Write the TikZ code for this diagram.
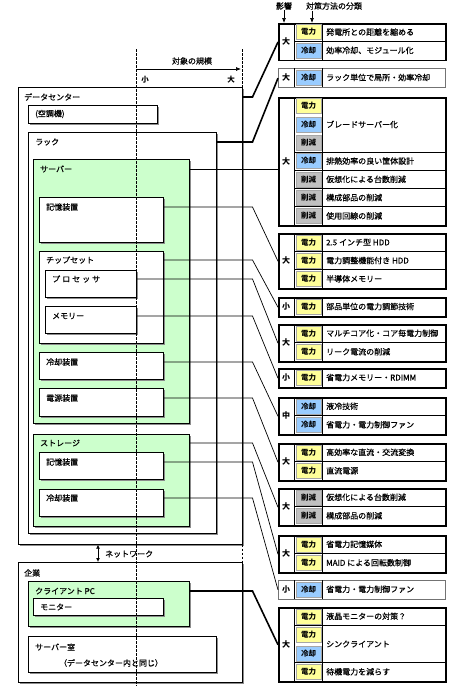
\documentclass[tikz,border=0pt]{standalone}
\usepackage{fontspec}
\setmainfont{Noto Sans CJK JP}
\usetikzlibrary{arrows.meta,shadows,calc}
\definecolor{cpow}{HTML}{FFFF99}
\definecolor{ccool}{HTML}{99CCFF}
\definecolor{ccut}{HTML}{C0C0C0}
\definecolor{cgrn}{HTML}{CCFFCC}
\newcommand{\mytxtfont}{\fontsize{8}{9}\selectfont\addfontfeature{FakeBold=0.6}}
\tikzset{
  lbox/.style={draw=black, line width=0.7pt, fill=white, anchor=north west, inner sep=0pt,
    drop shadow={shadow xshift=2pt, shadow yshift=-2pt, fill=black!45, opacity=1}},
  gbox/.style={lbox, fill=cgrn},
  lbl/.style={anchor=west, inner sep=0pt, font=\mytxtfont},
  pnl/.style={draw=black, line width=1.5pt, fill=white, anchor=north west, minimum width=167pt, inner sep=0pt},
  graypnl/.style={draw=black!55, line width=1.2pt},
  innerln/.style={line width=0.7pt},
  implbl/.style={inner sep=0pt, font=\fontsize{8}{9}\selectfont\bfseries},
  tagcell/.style={minimum width=25pt, minimum height=15pt, inner sep=0pt, draw=black!35, line width=0.4pt,
    font=\fontsize{7.5}{8}\selectfont\bfseries},
  tagpow/.style={fill=cpow},
  tagcool/.style={fill=ccool},
  tagcut/.style={fill=ccut},
  ptext/.style={anchor=west, inner sep=0pt, font=\mytxtfont},
  thickc/.style={line width=1.6pt},
  thinc/.style={line width=0.7pt},
  dashln/.style={line width=0.8pt, dash pattern=on 2.5pt off 1.5pt},
  arr/.style={line width=0.7pt, -{Latex[length=5pt,width=4pt]}},
  dblarr/.style={line width=0.8pt, {Latex[length=4pt,width=4pt]}-{Latex[length=4pt,width=4pt]}}
}
\newcommand{\mypanel}[5]{%
  \node[pnl,#5,minimum height=#3pt] (#1) at (278,#2) {};
  \draw[innerln] (294,#2) -- ++(0,#3);
  \draw[innerln] (322,#2) -- ++(0,#3);
  \node[implbl] (#1-i) at ($(286,#2)+(0,#3/2)$) {#4};
}
\newcommand{\mytag}[4]{\node[tagcell,#3] (#1) at (308.5,#2) {#4};}
\newcommand{\mytxt}[3]{\node[ptext] (#1) at (326,#2) {#3};}
\newcommand{\mysep}[1]{\draw[innerln] (294,#1) -- (445,#1);}
\begin{document}
\begin{tikzpicture}[x=1pt,y=-1pt]
\useasboundingbox[fill=white] (0,0) rectangle (455,691);

% ---------- left side boxes ----------
\node[lbox,minimum width=224pt,minimum height=457pt] (dc) at (18,87) {};
\node[lbl] (dclbl) at (24,97) {データセンター};
\node[lbox,minimum width=129pt,minimum height=18pt] (ac) at (28,105) {};
\node[lbl] (aclbl) at (35,114) {(空調機)};
\node[lbox,minimum width=188pt,minimum height=401pt] (rack) at (28,132) {};
\node[lbl] (racklbl) at (35,142) {ラック};
\node[gbox,minimum width=156pt,minimum height=264pt] (srv) at (33,159) {};
\node[lbl] (srvlbl) at (40,169) {サーバー};
\node[lbox,minimum width=124pt,minimum height=45pt] (hdd) at (39,197) {};
\node[lbl] (hddlbl) at (46,207) {記憶装置};
\node[lbox,minimum width=124pt,minimum height=92pt] (chip) at (39,251) {};
\node[lbl] (chiplbl) at (46,260) {チップセット};
\node[lbox,minimum width=91pt,minimum height=27pt] (cpu) at (45,270) {};
\node[lbl,font=\mytxtfont\addfontfeature{LetterSpace=25}] (cpulbl) at (52,279) {プロセッサ};
\node[lbox,minimum width=91pt,minimum height=27pt] (mem) at (45,306) {};
\node[lbl] (memlbl) at (52,316) {メモリー};
\node[lbox,minimum width=124pt,minimum height=27pt] (cool) at (39,352) {};
\node[lbl] (coollbl) at (46,362) {冷却装置};
\node[lbox,minimum width=124pt,minimum height=28pt] (psu) at (39,388) {};
\node[lbl] (psulbl) at (46,398) {電源装置};
\node[gbox,minimum width=156pt,minimum height=92pt] (stg) at (33,434) {};
\node[lbl] (stglbl) at (40,443) {ストレージ};
\node[lbox,minimum width=124pt,minimum height=27pt] (shdd) at (39,452) {};
\node[lbl] (shddlbl) at (46,462) {記憶装置};
\node[lbox,minimum width=124pt,minimum height=27pt] (scool) at (39,489) {};
\node[lbl] (scoollbl) at (46,498) {冷却装置};

\node[lbox,minimum width=224pt,minimum height=120pt] (ent) at (18,562) {};
\node[lbl] (entlbl) at (24,573) {企業};
\node[gbox,minimum width=161pt,minimum height=45pt] (pc) at (28,581) {};
\node[lbl] (pclbl) at (35,591) {クライアント PC};
\node[lbox,minimum width=130pt,minimum height=17pt] (mon) at (33,598) {};
\node[lbl] (monlbl) at (40,607) {モニター};
\node[lbox,minimum width=188pt,minimum height=36pt] (room) at (28,636) {};
\node[lbl] (roomlbl) at (35,647) {サーバー室};
\node[lbl,anchor=center] (roomnote) at (111,663) {（データセンター内と同じ）};

% ---------- header ----------
\node[lbl,anchor=center] (scalelbl) at (192,61) {対象の規模};
\coordinate (s1) at (136,69);
\coordinate (s2) at (241,69);
\draw[arr] (s1) -- (s2);
\node[lbl,anchor=center,font=\fontsize{7.5}{8}\selectfont\bfseries] (small) at (145,80) {小};
\node[lbl,anchor=center,font=\fontsize{7.5}{8}\selectfont\bfseries] (large) at (231,80) {大};
\node[lbl,anchor=center] (hdimp) at (284,6) {影響};
\node[lbl,anchor=center] (hdcls) at (334,6) {対策方法の分類};

% ---------- panels ----------
\mypanel{p1}{23}{36.5}{大}{}
\mytag{t1a}{32.1}{tagpow}{電力} \mytxt{x1a}{32.1}{発電所との距離を縮める}
\mysep{41.25}
\mytag{t1b}{50.4}{tagcool}{冷却} \mytxt{x1b}{50.4}{効率冷却、モジュール化}

\mypanel{p2}{68}{19}{大}{graypnl}
\mytag{t2a}{77.5}{tagcool}{冷却} \mytxt{x2a}{77.5}{ラック単位で局所・効率冷却}

\mypanel{p3}{97}{128}{大}{}
\mytag{t3a}{106.1}{tagpow}{電力}
\mytag{t3b}{124.4}{tagcool}{冷却}
\mytag{t3c}{142.7}{tagcut}{削減}
\mytxt{x3a}{124.4}{ブレードサーバー化}
\mysep{151.9}
\mytag{t3d}{161}{tagcool}{冷却} \mytxt{x3d}{161}{排熱効率の良い筐体設計}
\mysep{170.1}
\mytag{t3e}{179.3}{tagcut}{削減} \mytxt{x3e}{179.3}{仮想化による台数削減}
\mysep{188.4}
\mytag{t3f}{197.6}{tagcut}{削減} \mytxt{x3f}{197.6}{構成部品の削減}
\mysep{206.7}
\mytag{t3g}{215.9}{tagcut}{削減} \mytxt{x3g}{215.9}{使用回線の削減}

\mypanel{p4}{233}{55}{大}{}
\mytag{t4a}{242.2}{tagpow}{電力} \mytxt{x4a}{242.2}{2.5 インチ型 HDD}
\mysep{251.3}
\mytag{t4b}{260.5}{tagpow}{電力} \mytxt{x4b}{260.5}{電力調整機能付き HDD}
\mysep{269.7}
\mytag{t4c}{278.8}{tagpow}{電力} \mytxt{x4c}{278.8}{半導体メモリー}

\mypanel{p5}{297}{19}{小}{}
\mytag{t5a}{306.5}{tagpow}{電力} \mytxt{x5a}{306.5}{部品単位の電力調節技術}

\mypanel{p6}{324}{37}{大}{}
\mytag{t6a}{333.25}{tagpow}{電力} \mytxt{x6a}{333.25}{マルチコア化・コア毎電力制御}
\mysep{342.5}
\mytag{t6b}{351.75}{tagpow}{電力} \mytxt{x6b}{351.75}{リーク電流の削減}

\mypanel{p7}{368}{19}{小}{}
\mytag{t7a}{377.5}{tagpow}{電力} \mytxt{x7a}{377.5}{省電力メモリー・RDIMM}

\mypanel{p8}{397}{37}{中}{}
\mytag{t8a}{406.25}{tagcool}{冷却} \mytxt{x8a}{406.25}{液冷技術}
\mysep{415.5}
\mytag{t8b}{424.75}{tagcool}{冷却} \mytxt{x8b}{424.75}{省電力・電力制御ファン}

\mypanel{p9}{443}{37}{大}{}
\mytag{t9a}{452.25}{tagpow}{電力} \mytxt{x9a}{452.25}{高効率な直流・交流変換}
\mysep{461.5}
\mytag{t9b}{470.75}{tagpow}{電力} \mytxt{x9b}{470.75}{直流電源}

\mypanel{p10}{488}{37}{大}{}
\mytag{t10a}{497.25}{tagcut}{削減} \mytxt{x10a}{497.25}{仮想化による台数削減}
\mysep{506.5}
\mytag{t10b}{515.75}{tagcut}{削減} \mytxt{x10b}{515.75}{構成部品の削減}

\mypanel{p11}{535}{37}{大}{}
\mytag{t11a}{544.25}{tagpow}{電力} \mytxt{x11a}{544.25}{省電力記憶媒体}
\mysep{553.5}
\mytag{t11b}{562.75}{tagpow}{電力} \mytxt{x11b}{562.75}{MAID による回転数制御}

\mypanel{p12}{580}{18.5}{小}{graypnl}
\mytag{t12a}{589.25}{tagcool}{冷却} \mytxt{x12a}{589.25}{省電力・電力制御ファン}

\mypanel{p13}{607}{74}{大}{}
\mytag{t13a}{616.25}{tagpow}{電力} \mytxt{x13a}{616.25}{液晶モニターの対策？}
\mysep{625.5}
\mytag{t13b}{634.75}{tagpow}{電力}
\mytag{t13c}{653.25}{tagcool}{冷却}
\mytxt{x13b}{644}{シンクライアント}
\mysep{662.5}
\mytag{t13d}{671.75}{tagpow}{電力} \mytxt{x13d}{671.75}{待機電力を減らす}

% header arrows
\coordinate (ha2) at (312,11);
\draw[arr] (hdimp.south) -- (hdimp.south |- p1.north);
\draw[arr] (ha2) -- (ha2 |- p1.north);

% ---------- connectors ----------
\coordinate (bx) at (252.5,0);
\draw[thickc] (dc.east |- dclbl) -- (bx |- dclbl) -- (p1.west);
\draw[thickc] (rack.east |- racklbl) -- (bx |- racklbl) -- (p2.west);
\draw[thinc] (srv.east |- srvlbl) -- (p3.west |- srvlbl);
\draw[thinc] (hdd.east |- hddlbl) -- (bx |- hddlbl) -- (p4.west);
\draw[thinc] (chip.east |- chiplbl) -- (bx |- chiplbl) -- (p5.west);
\draw[thinc] (cpu.east |- cpulbl) -- (bx |- cpulbl) -- (p6.west);
\draw[thinc] (mem.east |- memlbl) -- (bx |- memlbl) -- (p7.west);
\draw[thinc] (cool.east |- coollbl) -- (bx |- coollbl) -- (p8.west);
\draw[thinc] (psu.east |- psulbl) -- (bx |- psulbl) -- (p9.west);
\draw[thinc] (stg.east |- stglbl) -- (bx |- stglbl) -- (p10.west);
\draw[thinc] (shdd.east |- shddlbl) -- (bx |- shddlbl) -- (p11.west);
\draw[thinc] (scool.east |- scoollbl) -- (bx |- scoollbl) -- (p12.west);
\draw[thickc] (pc.east |- pclbl) -- (bx |- pclbl) -- (p13.west);

% ---------- network ----------
\coordinate (netx) at (98,0);
\draw[dblarr] (dc.south -| netx) -- (ent.north -| netx);
\node[lbl] (netlbl) at (105,554) {ネットワーク};

% ---------- dashed scale lines ----------
\coordinate (dl1) at (136,49);
\coordinate (dl2) at (136,686);
\draw[dashln] (dl1) -- (dl2);
\coordinate (dr1) at (242,49);
\draw[dashln] (dr1) -- (dr1 |- dc.north);
\draw[dashln] (dc.south -| dr1) -- (ent.north -| dr1);
\end{tikzpicture}
\end{document}
